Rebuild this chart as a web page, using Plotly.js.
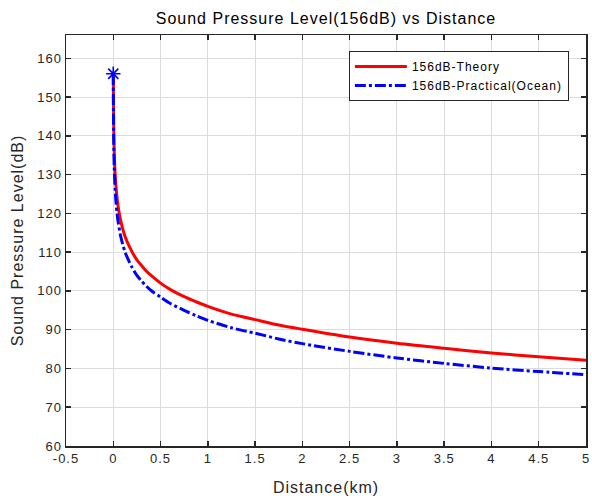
<!DOCTYPE html>
<html>
<head>
<meta charset="utf-8">
<script src="https://cdn.plot.ly/plotly-3.0.1.min.js"></script>
<style>
html,body{margin:0;padding:0;background:#fff;}
#chart{width:592px;height:496px;}
text{letter-spacing:1px;}
</style>
</head>
<body>
<div id="chart"></div>
<script>
// Distance (km)
const distanceKm = [0, 0.002, 0.005, 0.01, 0.02, 0.03, 0.04, 0.05, 0.075, 0.1, 0.125, 0.15, 0.2, 0.25, 0.3, 0.35, 0.4, 0.5, 0.6, 0.75, 0.875, 1, 1.25, 1.5, 1.75, 2, 2.5, 3, 3.5, 4, 4.5, 5];
// 156dB-Theory (dB)
const theoryDb = [156, 150, 142, 136, 130, 126.5, 124, 122, 118.5, 116, 114, 112.5, 110, 108, 106.5, 105.1, 104, 102, 100.4, 98.5, 97.2, 96, 94, 92.6, 91.2, 90.1, 88.1, 86.5, 85.2, 84, 83, 82.1];
// 156dB-Practical(Ocean) (dB)
const practicalDb = [156, 146, 138, 132, 126, 122.5, 120, 118, 114.5, 112, 110, 108.5, 106, 104, 102.5, 101.2, 100.1, 98.4, 96.8, 95, 93.6, 92.4, 90.5, 89.1, 87.6, 86.4, 84.4, 82.7, 81.3, 80.1, 79.2, 78.4];
// Source point marker
const sourceX = [0];
const sourceY = [156];
// Tick labels
const xTickVals = [-0.5, 0, 0.5, 1, 1.5, 2, 2.5, 3, 3.5, 4, 4.5, 5];
const xTickText = ["-0.5", "0", "0.5", "1", "1.5", "2", "2.5", "3", "3.5", "4", "4.5", "5"];
const yTickVals = [60, 70, 80, 90, 100, 110, 120, 130, 140, 150, 160];

const fontFam = '"Liberation Sans", Arial, Helvetica, sans-serif';
const axisCol = '#262626';

const traces = [
  {x: distanceKm, y: theoryDb, type: 'scatter', mode: 'lines', name: '156dB-Theory',
   line: {color: '#ff0000', width: 3, shape: 'spline', smoothing: 0.8}},
  {x: distanceKm, y: practicalDb, type: 'scatter', mode: 'lines', name: '156dB-Practical(Ocean)',
   line: {color: '#0000ff', width: 3, dash: '11px,3px,3px,3px', shape: 'spline', smoothing: 0.8}},
  {x: sourceX, y: sourceY, type: 'scatter', mode: 'markers', showlegend: false,
   marker: {symbol: 'asterisk-open', size: 12, color: '#0000ff', line: {color: '#0000ff', width: 1.6}}}
];

const axisBase = {
  showline: true, linecolor: axisCol, linewidth: 1.5, mirror: 'ticks',
  ticks: 'inside', ticklen: 5, tickwidth: 1.5, tickcolor: axisCol,
  showgrid: true, gridcolor: '#dcdcdc', gridwidth: 1, zeroline: false,
  tickfont: {family: fontFam, size: 13, color: axisCol}
};

const layout = {
  width: 592, height: 496,
  margin: {l: 66, r: 6, t: 35, b: 50},
  paper_bgcolor: '#ffffff', plot_bgcolor: '#ffffff',
  font: {family: fontFam, color: axisCol},
  title: {text: 'Sound Pressure Level(156dB) vs Distance', font: {family: fontFam, size: 16, color: '#000'},
          xref: 'paper', x: 0.5, xanchor: 'center', y: 0.963, yanchor: 'middle'},
  xaxis: Object.assign({}, axisBase, {
    range: [-0.5, 5], tickvals: xTickVals, ticktext: xTickText,
    title: {text: 'Distance(km)', font: {family: fontFam, size: 16, color: axisCol}, standoff: 16}
  }),
  yaxis: Object.assign({}, axisBase, {
    range: [60, 166], tickvals: yTickVals,
    title: {text: 'Sound Pressure Level(dB)', font: {family: fontFam, size: 16, color: axisCol}, standoff: 9}
  }),
  legend: {x: 0.544, y: 0.961, xanchor: 'left', yanchor: 'top',
           bgcolor: '#ffffff', bordercolor: axisCol, borderwidth: 1,
           font: {family: fontFam, size: 12, color: '#000'}, itemwidth: 52, tracegroupgap: 0},
  showlegend: true
};

Plotly.newPlot('chart', traces, layout, {displayModeBar: false, staticPlot: true});
</script>
</body>
</html>
